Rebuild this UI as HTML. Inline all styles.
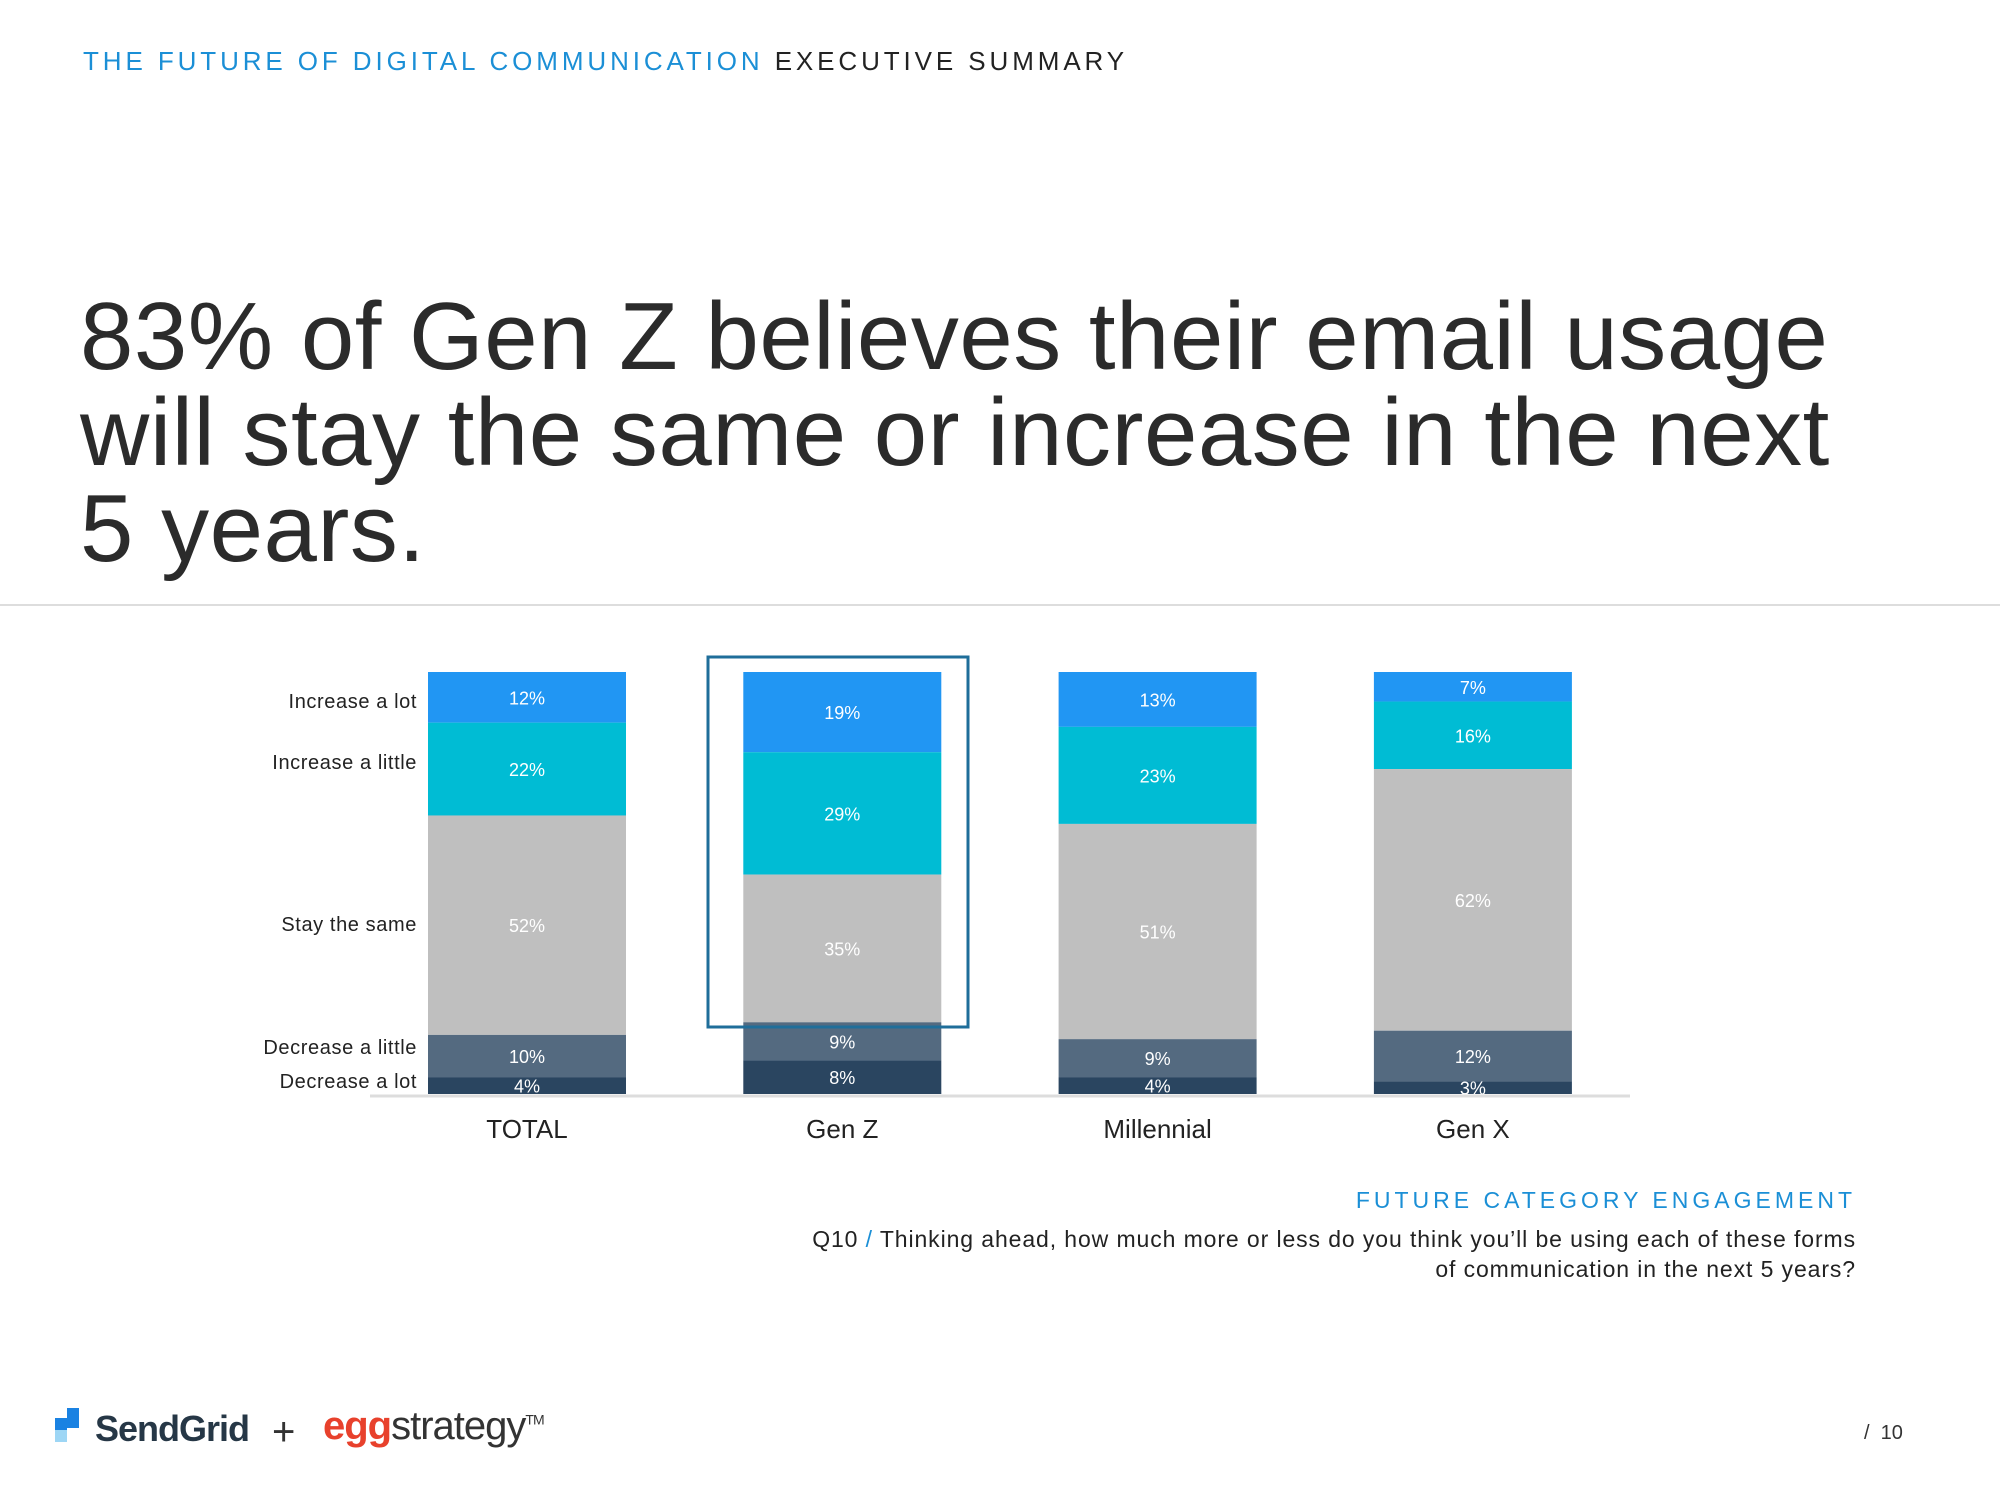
<!DOCTYPE html>
<html><head><meta charset="utf-8">
<style>
body{margin:0;width:2000px;height:1500px;background:#fff;font-family:"Liberation Sans",sans-serif;overflow:hidden;position:relative}
.abs{position:absolute}
</style></head><body>
<div class="abs" style="left:83px;top:46px;font-size:26px;letter-spacing:3.9px;color:#1b8fd6;white-space:nowrap">THE FUTURE OF DIGITAL COMMUNICATION <span style="color:#222">EXECUTIVE SUMMARY</span></div>
<div class="abs" style="left:80px;top:289px;font-size:96px;line-height:96px;letter-spacing:0.5px;color:#2b2b2b;width:1900px">83% of Gen Z believes their email usage<br>will stay the same or increase in the next<br>5 years.</div>
<div class="abs" style="left:0;top:604px;width:2000px;height:2px;background:#ddd"></div>
<svg class="abs" style="left:0;top:0" width="2000" height="1500" id="chart"></svg>
<div class="abs" style="right:144px;top:1187px;font-size:23px;letter-spacing:4px;color:#1b8fd6;white-space:nowrap">FUTURE CATEGORY ENGAGEMENT</div>
<div class="abs" style="right:144px;top:1224px;font-size:23px;line-height:30px;letter-spacing:0.9px;color:#222;text-align:right;white-space:nowrap">Q10 <span style="color:#1b8fd6">/</span> Thinking ahead, how much more or less do you think you’ll be using each of these forms<br>of communication in the next 5 years?</div>
<div class="abs" style="left:55px;top:1408px;height:40px">
 <div class="abs" style="left:0;top:10px;width:12px;height:24px;background:#1a82e2"></div>
 <div class="abs" style="left:12px;top:0;width:12px;height:20px;background:#1a82e2"></div>
 <div class="abs" style="left:0;top:22px;width:12px;height:12px;background:#9dd6f5"></div>
 <div class="abs" style="left:40px;top:0;font-size:36px;color:#263746;letter-spacing:-1px;font-weight:bold;white-space:nowrap">SendGrid</div>
</div>
<div class="abs" style="left:272px;top:1410px;font-size:40px;color:#333">+</div>
<div class="abs" style="left:323px;top:1404px;font-size:40px;color:#333;letter-spacing:-1px;white-space:nowrap"><span style="color:#e8412c;font-weight:bold">egg</span>strategy<sup style="font-size:14px">TM</sup></div>
<div class="abs" style="left:1864px;top:1422px;font-size:20px;color:#333">/ &nbsp;10</div>
<script>
const categories=["TOTAL","Gen Z","Millennial","Gen X"];
const seriesNames=["Increase a lot","Increase a little","Stay the same","Decrease a little","Decrease a lot"];
const incLot=[12,19,13,7];
const incLittle=[22,29,23,16];
const same=[52,35,51,62];
const decLittle=[10,9,9,12];
const decLot=[4,8,4,3];
const series=[incLot,incLittle,same,decLittle,decLot];
const colors=["#2196f3","#00bcd4","#bfbfbf","#546a80","#2a4560"];
const svg=document.getElementById('chart');
const NS="http://www.w3.org/2000/svg";
const top0=672,bottom0=1094,barW=198;
const xPos=i=>428+i*315.3;
const yScale=v=>v/100*(bottom0-top0);
function mk(tag,attrs){const e=document.createElementNS(NS,tag);for(const k in attrs)e.setAttribute(k,attrs[k]);svg.appendChild(e);return e;}
const base=mk('line',{x1:370,x2:1630,y1:1096,y2:1096,stroke:'#ddd','stroke-width':3});


categories.forEach((c,i)=>{
  let y=top0;
  series.forEach((s,k)=>{
    const h=yScale(s[i]);
    const r=mk('rect',{x:xPos(i),y:y,width:barW,height:h,fill:colors[k]});
    
    
    const t=mk('text',{x:xPos(i)+barW/2,y:y+h/2+7,'text-anchor':'middle','font-size':18,fill:'#fff','font-family':'Liberation Sans, sans-serif'});
    t.textContent=s[i]+'%';
    
    
    y+=h;
  });
  const l=mk('text',{x:xPos(i)+barW/2,y:1138,'text-anchor':'middle','font-size':26,fill:'#222','font-family':'Liberation Sans, sans-serif'});
  l.textContent=c;
  
  
});
const labelY=[708,769,931,1054,1088];
seriesNames.forEach((n,k)=>{
  const t=mk('text',{x:417,y:labelY[k],'text-anchor':'end','font-size':20,'letter-spacing':0.6,fill:'#222','font-family':'Liberation Sans, sans-serif'});
  t.textContent=n;
  
  
});
const hl=mk('rect',{x:708,y:657,width:260,height:370,fill:'none',stroke:'#1f6e9a','stroke-width':3});


</script>
</body></html>
